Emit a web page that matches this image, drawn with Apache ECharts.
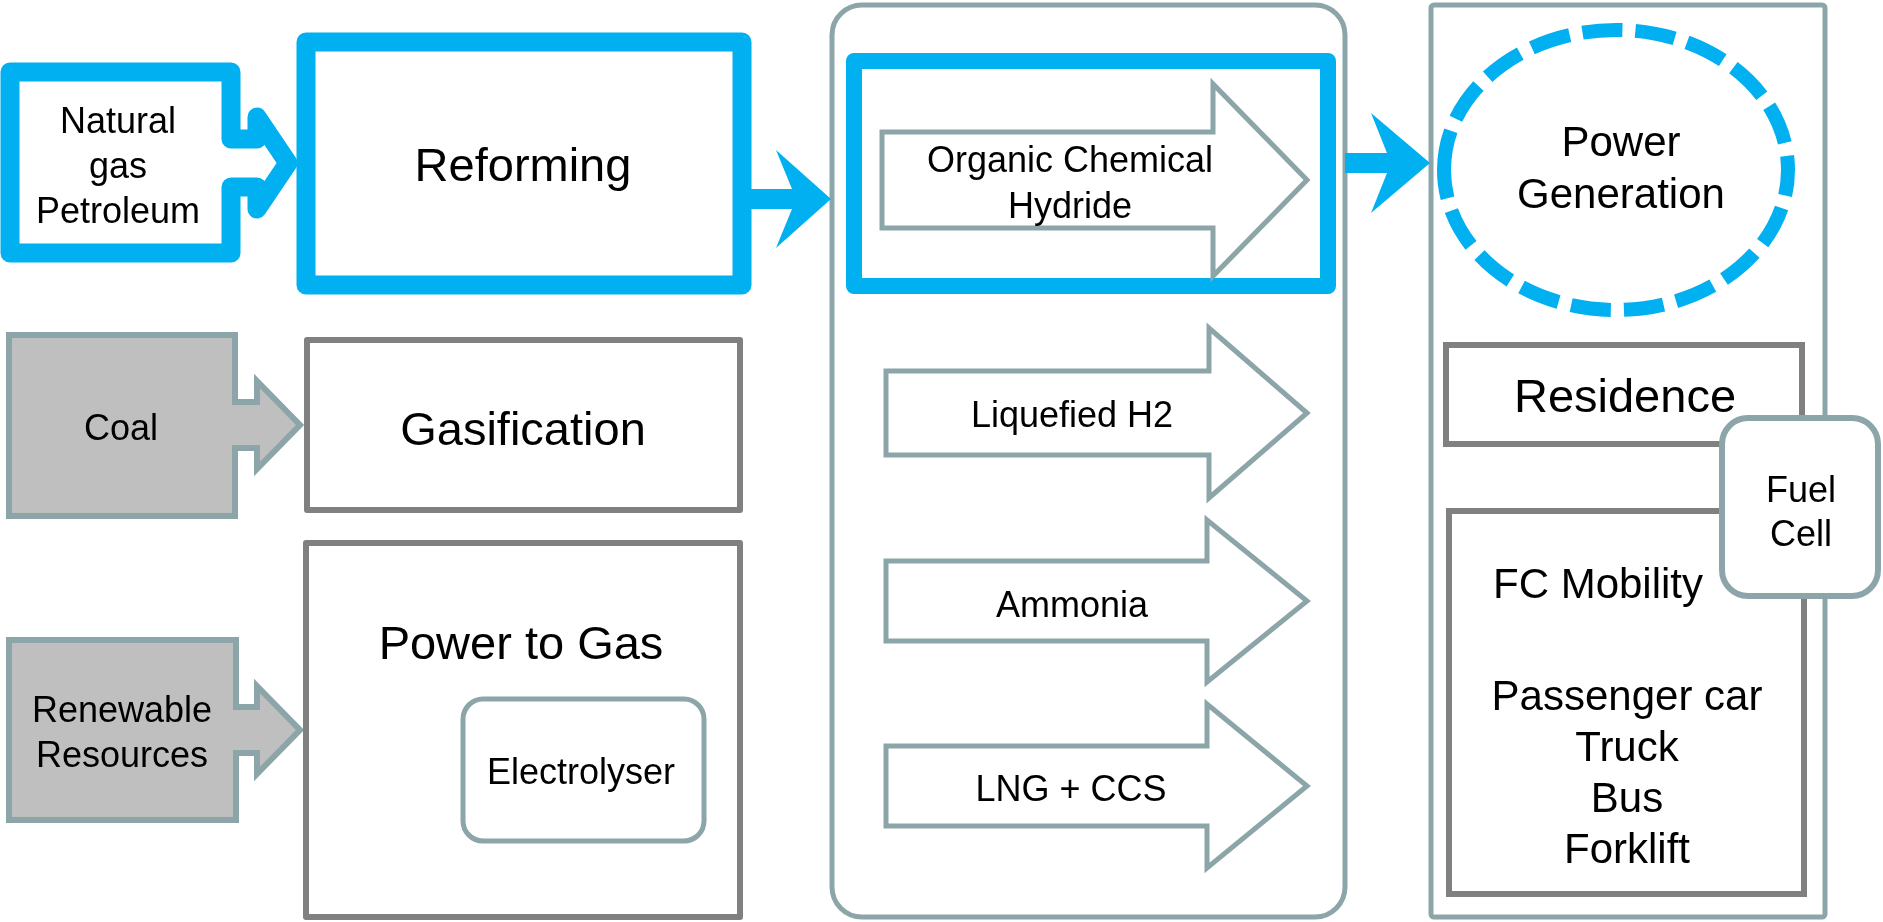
<!DOCTYPE html>
<html lang="en">

<head>
    <meta charset="UTF-8">
    <title>Hydrogen supply chain</title>
    <script src="https://cdn.jsdelivr.net/npm/echarts@6/dist/echarts.min.js"></script>
    <style>
        html, body { margin: 0; padding: 0; background: #fff; }
        #main { width: 1883px; height: 922px; }
    </style>
</head>

<body>
    <div id="main"></div>
    <script>
        // labels of the diagram
        var sourceLabels = ['Natural\ngas\nPetroleum', 'Coal', 'Renewable\nResources'];
        var processLabels = ['Reforming', 'Gasification', 'Power to Gas'];
        var subProcessLabel = 'Electrolyser';
        var carrierLabels = ['Organic Chemical\nHydride', 'Liquefied H2', 'Ammonia', 'LNG + CCS'];
        var useLabels = ['Power\nGeneration', 'Residence', 'FC Mobility'];
        var mobilityItems = ['Passenger car', 'Truck', 'Bus', 'Forklift'];
        var fuelCellLabel = 'Fuel\nCell';

        var BLUE = '#00B0F0';
        var TEAL = '#8CA5A8';
        var GRAY = '#808080';
        var FILL = '#BFBFBF';
        var FONT = '"Liberation Sans", Arial, sans-serif';
        // text baseline sits a little lower than the em box middle
        var TEXT_SHIFT = 4;

        // layout: source callouts (box with arrow on the right)
        var sourceBoxes = [
            { l: 10, t: 72, r: 231, b: 253, cy: 163, sh: 24, hb: 257, hh: 46, tip: 288 },
            { l: 9, t: 335, r: 235, b: 516, cy: 425, sh: 23, hb: 257, hh: 44, tip: 300 },
            { l: 9, t: 640, r: 236, b: 820, cy: 730, sh: 23, hb: 257, hh: 44, tip: 300 }
        ];
        var processBoxes = [
            { x: 306, y: 42, w: 436, h: 243 },
            { x: 307, y: 340, w: 433, h: 170 },
            { x: 306, y: 543, w: 434, h: 374 }
        ];
        // block arrows of the carriers
        var carrierArrows = [
            { x0: 882, cy: 180, sh: 48, hb: 1213, hh: 96, tip: 1307 },
            { x0: 886, cy: 413, sh: 42, hb: 1209, hh: 85, tip: 1307 },
            { x0: 886, cy: 601, sh: 40, hb: 1207, hh: 81, tip: 1307 },
            { x0: 886, cy: 786, sh: 40, hb: 1207, hh: 82, tip: 1307 }
        ];

        function callout(s) {
            return [
                [s.l, s.t], [s.r, s.t], [s.r, s.cy - s.sh], [s.hb, s.cy - s.sh], [s.hb, s.cy - s.hh],
                [s.tip, s.cy], [s.hb, s.cy + s.hh], [s.hb, s.cy + s.sh], [s.r, s.cy + s.sh],
                [s.r, s.b], [s.l, s.b]
            ];
        }

        function blockArrow(a) {
            return [
                [a.x0, a.cy - a.sh], [a.hb, a.cy - a.sh], [a.hb, a.cy - a.hh], [a.tip, a.cy],
                [a.hb, a.cy + a.hh], [a.hb, a.cy + a.sh], [a.x0, a.cy + a.sh]
            ];
        }

        // notched blue arrow between the columns
        function flowArrow(x0, cy, sh, neck, back, hh, tip) {
            return [
                [x0, cy - sh], [neck, cy - sh], [back, cy - hh], [tip, cy],
                [back, cy + hh], [neck, cy + sh], [x0, cy + sh]
            ];
        }

        function label(text, x, y, size, lh) {
            return {
                type: 'text',
                x: x,
                y: y + TEXT_SHIFT,
                silent: true,
                style: {
                    text: text,
                    fill: '#000',
                    fontSize: size,
                    fontFamily: FONT,
                    lineHeight: lh || Math.round(size * 1.22),
                    align: 'center',
                    verticalAlign: 'middle'
                }
            };
        }

        var els = [];

        // column frames
        els.push({
            type: 'rect', silent: true,
            shape: { x: 832, y: 5, width: 513, height: 912, r: 30 },
            style: { fill: '#fff', stroke: TEAL, lineWidth: 5 }
        });
        els.push({
            type: 'rect', silent: true,
            shape: { x: 1431, y: 5, width: 394, height: 912, r: 3 },
            style: { fill: '#fff', stroke: TEAL, lineWidth: 5 }
        });

        // sources
        for (var i = 0; i < sourceBoxes.length; i++) {
            var first = i === 0;
            els.push({
                type: 'polygon', silent: true,
                shape: { points: callout(sourceBoxes[i]) },
                style: {
                    fill: first ? '#fff' : FILL,
                    stroke: first ? BLUE : TEAL,
                    lineWidth: first ? 19 : 6,
                    lineJoin: first ? 'round' : 'miter'
                }
            });
        }
        els.push(label(sourceLabels[0], 118, 164, 36, 45));
        els.push(label(sourceLabels[1], 121, 426, 36));
        els.push(label(sourceLabels[2], 122, 731, 36, 45));

        // processes
        for (var j = 0; j < processBoxes.length; j++) {
            var p = processBoxes[j];
            els.push({
                type: 'rect', silent: true,
                shape: { x: p.x, y: p.y, width: p.w, height: p.h },
                style: {
                    fill: '#fff',
                    stroke: j === 0 ? BLUE : GRAY,
                    lineWidth: j === 0 ? 19 : 6,
                    lineJoin: 'round'
                }
            });
        }
        els.push(label(processLabels[0], 523, 164, 47));
        els.push(label(processLabels[1], 523, 428, 47));
        els.push(label(processLabels[2], 521, 642, 47));
        els.push({
            type: 'rect', silent: true,
            shape: { x: 463, y: 699, width: 241, height: 142, r: 20 },
            style: { fill: '#fff', stroke: TEAL, lineWidth: 5 }
        });
        els.push(label(subProcessLabel, 581, 770, 36));

        // blue arrows between columns
        els.push({
            type: 'polygon', silent: true,
            shape: { points: flowArrow(742, 199, 10, 792, 776, 49, 831) },
            style: { fill: BLUE }
        });
        els.push({
            type: 'polygon', silent: true,
            shape: { points: flowArrow(1345, 163, 10, 1387, 1371, 50, 1430) },
            style: { fill: BLUE }
        });

        // carriers
        els.push({
            type: 'rect', silent: true,
            shape: { x: 854, y: 61, width: 474, height: 225 },
            style: { fill: '#fff', stroke: BLUE, lineWidth: 16, lineJoin: 'round' }
        });
        for (var k = 0; k < carrierArrows.length; k++) {
            els.push({
                type: 'polygon', silent: true,
                shape: { points: blockArrow(carrierArrows[k]) },
                style: { fill: '#fff', stroke: TEAL, lineWidth: 5 }
            });
        }
        els.push(label(carrierLabels[0], 1070, 181, 36, 46));
        els.push(label(carrierLabels[1], 1072, 413, 36));
        els.push(label(carrierLabels[2], 1072, 603, 36));
        els.push(label(carrierLabels[3], 1071, 787, 36));

        // uses
        els.push({
            type: 'ellipse', silent: true,
            shape: { cx: 1616, cy: 170, rx: 172, ry: 140 },
            style: { fill: null, stroke: BLUE, lineWidth: 14, lineDash: [40, 13] }
        });
        els.push(label(useLabels[0], 1621, 166, 42, 52));
        els.push({
            type: 'rect', silent: true,
            shape: { x: 1446, y: 345, width: 356, height: 99 },
            style: { fill: '#fff', stroke: GRAY, lineWidth: 6 }
        });
        els.push(label(useLabels[1], 1625, 395, 47));
        els.push({
            type: 'rect', silent: true,
            shape: { x: 1449, y: 511, width: 355, height: 383 },
            style: { fill: '#fff', stroke: GRAY, lineWidth: 6 }
        });
        els.push(label(useLabels[2], 1598, 582, 42));
        els.push(label(mobilityItems.join('\n'), 1627, 771, 42, 51));

        // fuel cell tag on top
        els.push({
            type: 'rect', silent: true,
            shape: { x: 1722, y: 418, width: 156, height: 178, r: 26 },
            style: { fill: '#fff', stroke: TEAL, lineWidth: 6 }
        });
        els.push(label(fuelCellLabel, 1801, 510, 36, 44));

        var myChart = echarts.init(document.getElementById('main'));
        myChart.setOption({
            backgroundColor: '#fff',
            animation: false,
            graphic: { elements: els }
        });
    </script>
</body>

</html>
